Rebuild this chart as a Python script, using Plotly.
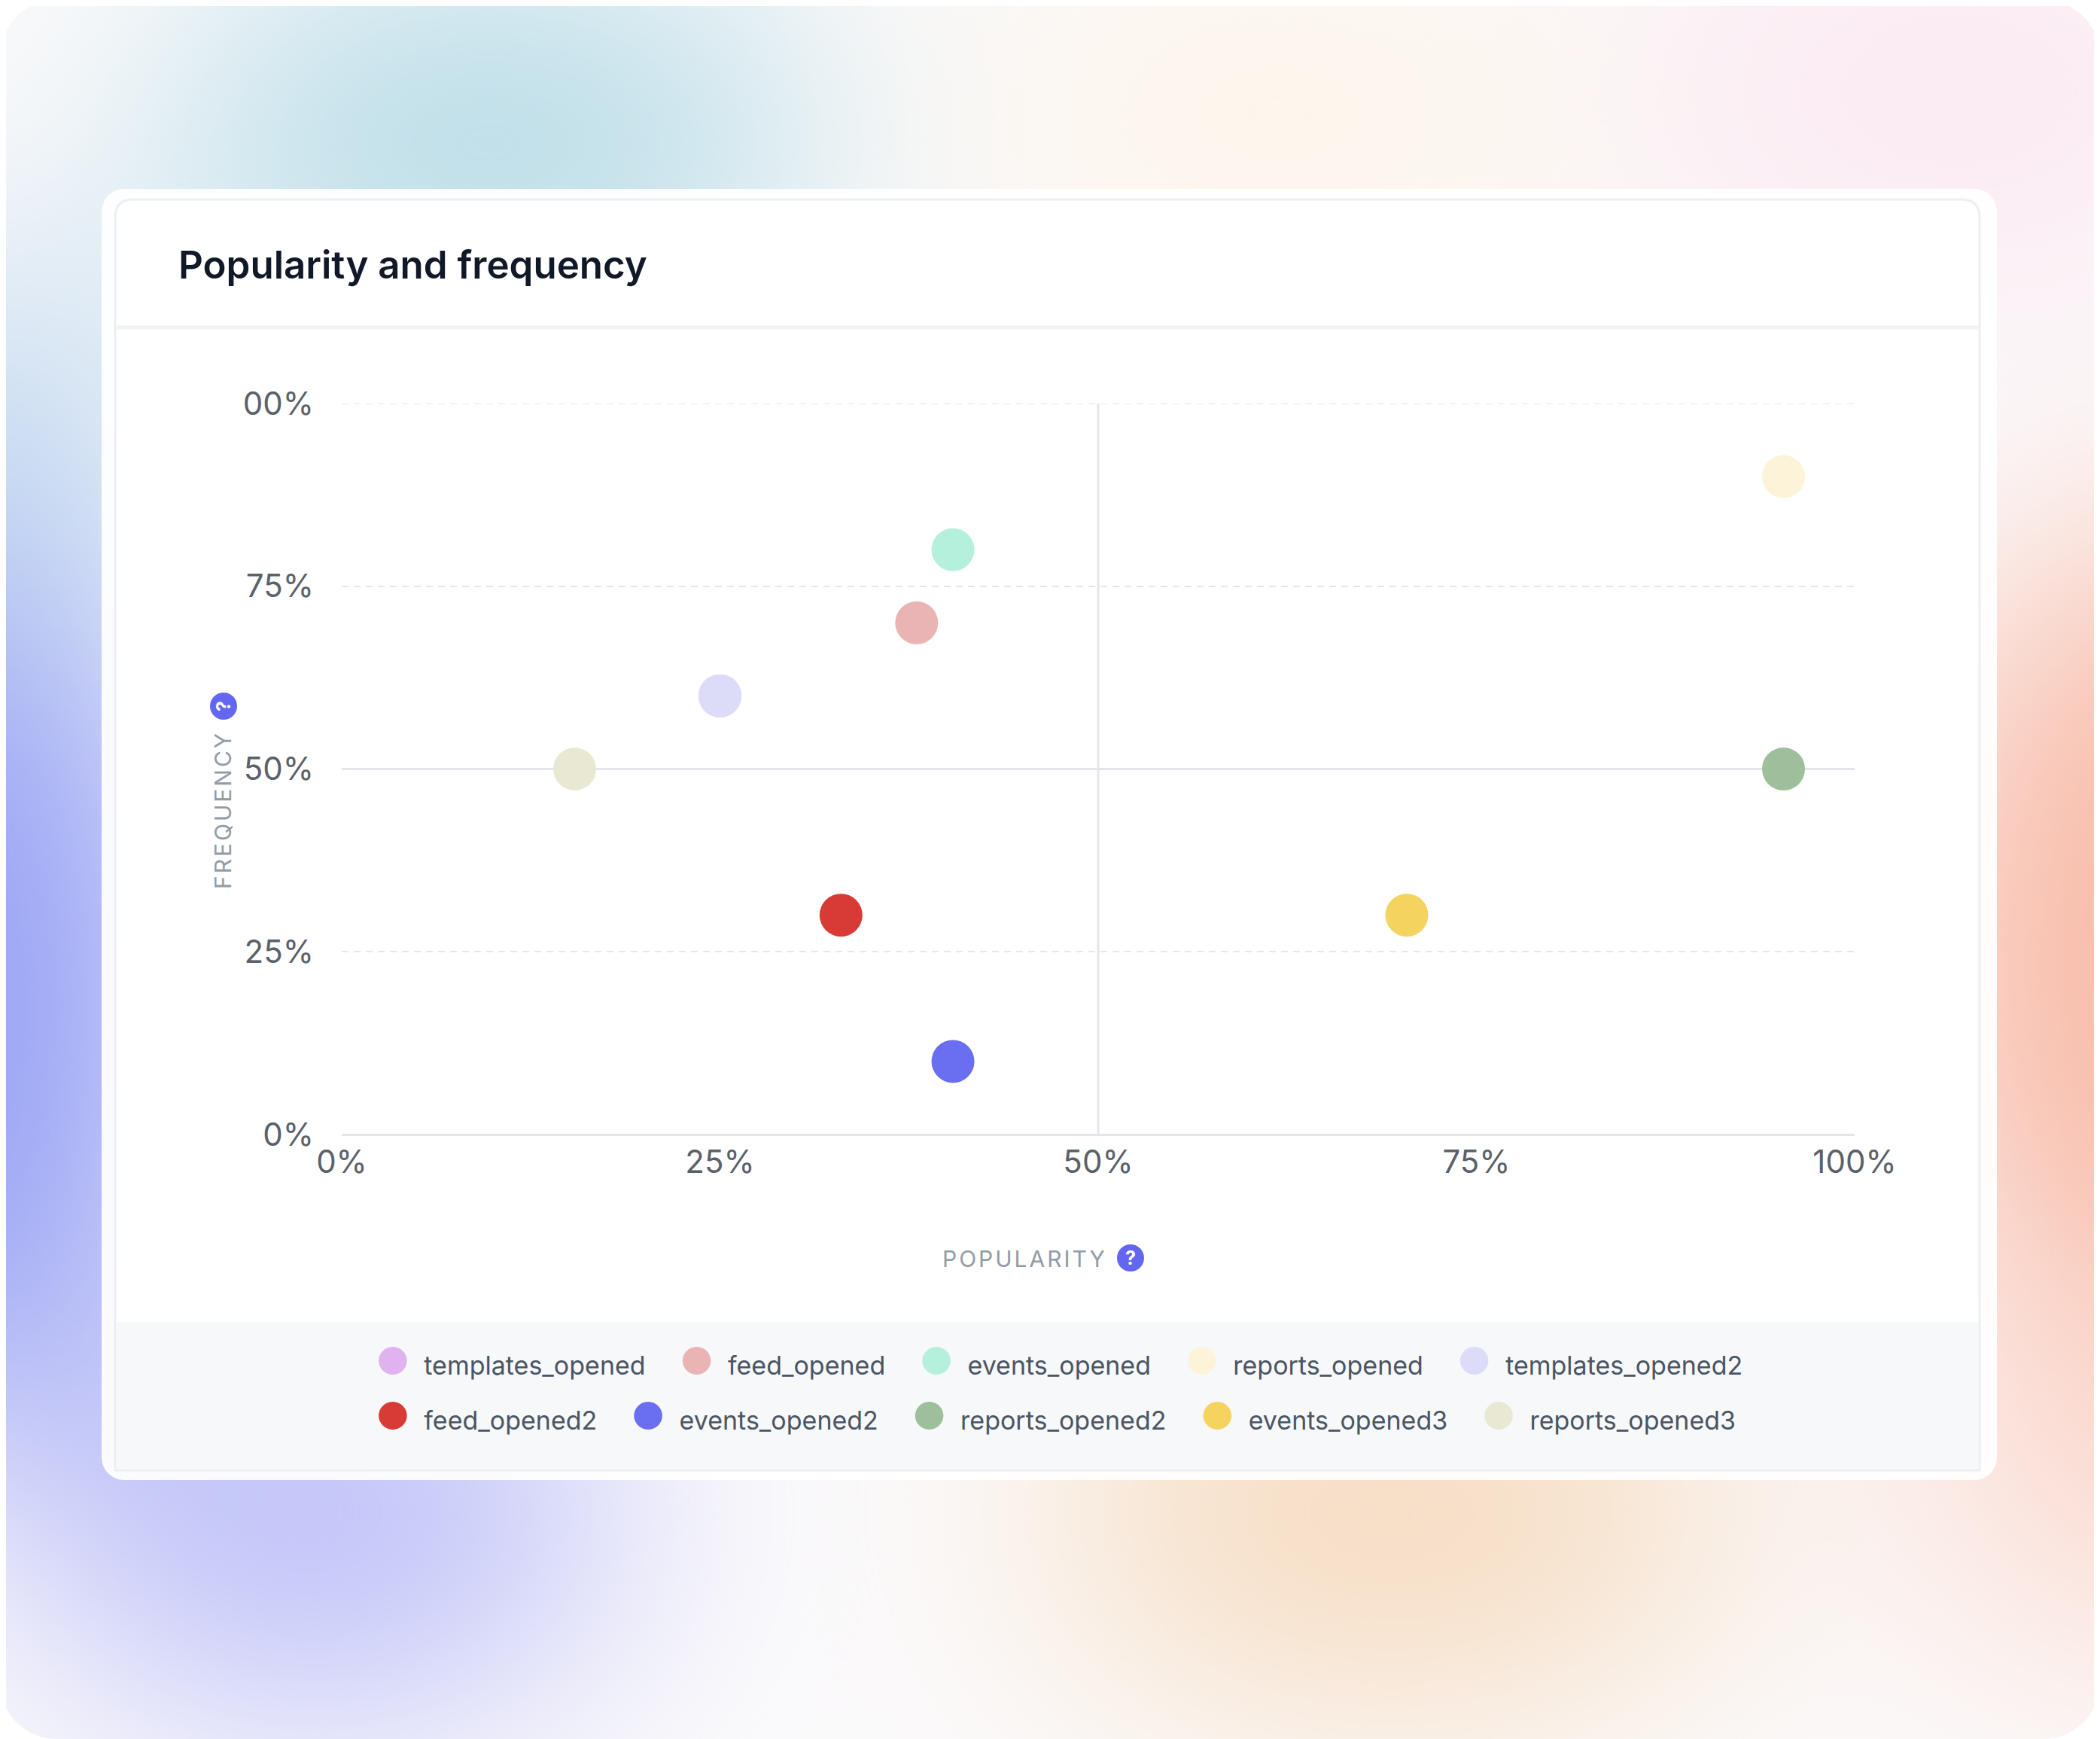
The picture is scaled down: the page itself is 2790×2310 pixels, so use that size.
import base64
import plotly.graph_objects as go

# --- data ---
event_names = ["templates_opened", "feed_opened", "events_opened", "reports_opened",
               "templates_opened2", "feed_opened2", "events_opened2", "reports_opened2",
               "events_opened3", "reports_opened3"]
popularity = [25, 38, 40.4, 95.3, 25, 33, 40.4, 95.3, 70.4, 15.4]
frequency = [60, 70, 80, 90, 60, 30, 10, 50, 30, 50]
point_colors = ["#e0b2f0", "#ebb4b4", "#b4f0dc", "#fdf3d9", "#dcdcf9",
                "#d83a35", "#6a6ef0", "#9dbf9b", "#f4d35e", "#e9e9d3"]
axis_ticks = [0, 25, 50, 75, 100]
x_tick_labels = ["0%", "25%", "50%", "75%", "100%"]
y_tick_labels = ["0%", "25%", "50%", "75%", "00%"]
quadrant_split = 50

FONT = "Inter, 'Noto Sans', sans-serif"
W, H = 2790, 2310
OFF = 8  # page body margin
# plot area in window pixels: x 454..2464, y 536..1507
ML, MT = 454 - OFF, 536 - OFF
MR, MB = W - (2464 - OFF), H - (1507 - OFF)
PW = W - ML - MR
PH = H - MT - MB


def px(x):
    return (x - OFF - ML) / PW


def py(y):
    return (H - MB - (y - OFF)) / PH


# pastel backdrop + card, drawn as one svg picture behind the chart
bg_svg = f"""<svg xmlns="http://www.w3.org/2000/svg" width="{W}" height="{H}" viewBox="0 0 {W} {H}">
<defs>
<filter id="b" x="-50%" y="-50%" width="200%" height="200%"><feGaussianBlur stdDeviation="170"/></filter>
<clipPath id="c"><rect width="{W}" height="{H}" rx="75"/></clipPath>
</defs>
<g clip-path="url(#c)">
<rect width="{W}" height="{H}" fill="#fbfafb"/>
<g filter="url(#b)">
<ellipse cx="650" cy="190" rx="440" ry="220" fill="#b2d9e5"/>
<ellipse cx="-20" cy="650" rx="220" ry="300" fill="#bcd6ee"/>
<ellipse cx="-60" cy="1330" rx="310" ry="580" fill="#96a1f4"/>
<ellipse cx="420" cy="2010" rx="400" ry="260" fill="#bcbff8"/>
<ellipse cx="1850" cy="2010" rx="460" ry="260" fill="#f6dbc0"/>
<ellipse cx="2880" cy="1280" rx="330" ry="580" fill="#f8b9a6"/>
<ellipse cx="2850" cy="1950" rx="300" ry="250" fill="#fbd9cf"/>
<ellipse cx="2600" cy="120" rx="420" ry="250" fill="#fbe8f1"/>
<ellipse cx="1700" cy="150" rx="420" ry="200" fill="#fdf4e8"/>
</g></g>
<rect x="135" y="251" width="2518" height="1715" rx="30" fill="#ffffff" fill-opacity="0.93"/>
<path d="M153,289 Q153,265 177,265 L2606,265 Q2630,265 2630,289 L2630,1953 L153,1953 Z"
 fill="#ffffff" stroke="#eceef1" stroke-width="3"/>
<line x1="155" x2="2628" y1="435" y2="435" stroke="#f0f2f4" stroke-width="5"/>
<rect x="155" y="1756" width="2473" height="195" fill="#f7f8fa"/>
</svg>"""
bg_uri = "data:image/svg+xml;base64," + base64.b64encode(bg_svg.encode()).decode()

fig = go.Figure()

# quadrant split lines and the top dashed grid line (plotly drops grid lines on the edge)
lo, hi = axis_ticks[0], axis_ticks[-1]
guide = dict(mode="lines", showlegend=False, hoverinfo="skip")
fig.add_trace(go.Scatter(x=[quadrant_split, quadrant_split], y=[lo, hi],
                         line=dict(color="#e4e6eb", width=3), **guide))
fig.add_trace(go.Scatter(x=[lo, hi], y=[quadrant_split, quadrant_split],
                         line=dict(color="#e4e6eb", width=3), **guide))
fig.add_trace(go.Scatter(x=[lo, hi], y=[hi, hi],
                         line=dict(color="#e3e6ea", width=2, dash="9px,7px"), **guide))

for name, x, y, c in zip(event_names, popularity, frequency, point_colors):
    fig.add_trace(go.Scatter(
        x=[x], y=[y], mode="markers", name=name, legendgroup=name, showlegend=False,
        marker=dict(size=57, color=c),
        hovertemplate=name + "<br>popularity %{x}%<br>frequency %{y}%<extra></extra>",
    ))
    # legend entry with a bigger dot than plotly allows for legend symbols
    fig.add_trace(go.Scatter(
        x=[None], y=[None], mode="markers", legendgroup=name, showlegend=True,
        marker=dict(size=2, color="rgba(0,0,0,0)"),
        name=(f'<span style="color:{c};font-size:50px">●</span>'
              f'<span style="font-size:66px">\u00a0</span>'
              f'<span style="font-size:34px">{name}</span>'),
    ))

shapes = [
    # help icons
    dict(type="circle", x0=px(1484), x1=px(1520), y0=py(1653), y1=py(1689), xref="paper", yref="paper",
         fillcolor="#6366f1", line=dict(width=0)),
    dict(type="circle", x0=px(279), x1=px(315), y0=py(920), y1=py(956), xref="paper", yref="paper",
         fillcolor="#6366f1", line=dict(width=0)),
]

annotations = [
    dict(text="Popularity and frequency", x=px(235), y=py(351), xref="paper", yref="paper",
         xanchor="left", yanchor="middle", showarrow=False,
         font=dict(family=FONT, size=51, color="#111827", weight=600)),
    dict(text='<span style="letter-spacing:3px">POPULARITY</span>', x=px(1361), y=py(1672),
         xref="paper", yref="paper", xanchor="center", yanchor="middle", showarrow=False,
         font=dict(family=FONT, size=30, color="#939ba5")),
    dict(text='<span style="letter-spacing:3px">FREQUENCY</span>', x=px(296), y=py(1076),
         xref="paper", yref="paper", xanchor="center", yanchor="middle", showarrow=False,
         textangle=-90, font=dict(family=FONT, size=30, color="#939ba5")),
    dict(text="<b>?</b>", x=px(1502), y=py(1671), xref="paper", yref="paper",
         xanchor="center", yanchor="middle", showarrow=False,
         font=dict(family=FONT, size=25, color="white")),
    dict(text="<b>?</b>", x=px(297), y=py(938), xref="paper", yref="paper",
         xanchor="center", yanchor="middle", showarrow=False, textangle=-90,
         font=dict(family=FONT, size=25, color="white")),
]

fig.update_layout(
    width=W, height=H,
    margin=dict(l=ML, r=MR, t=MT, b=MB),
    paper_bgcolor="white",
    plot_bgcolor="rgba(0,0,0,0)",
    font=dict(family=FONT, color="#5b6169"),
    images=[dict(source=bg_uri, xref="paper", yref="paper", x=px(0), y=py(0),
                 sizex=W / PW, sizey=H / PH, xanchor="left", yanchor="top",
                 sizing="stretch", layer="below")],
    shapes=shapes,
    annotations=annotations,
    showlegend=True,
    legend=dict(orientation="h", xref="container", yref="container",
                x=(1390 - OFF) / W, xanchor="center", y=1 - (1772 - OFF) / H, yanchor="top",
                bgcolor="rgba(0,0,0,0)", itemwidth=30,
                font=dict(family=FONT, size=46, color="#4b5563")),
    xaxis=dict(range=[0, 100], tickvals=axis_ticks, ticktext=x_tick_labels,
               showgrid=False, zeroline=False, showline=False, ticks="",
               ticklabelstandoff=8, tickfont=dict(size=42, color="#5b6169"), fixedrange=True),
    yaxis=dict(range=[0, 100], tickvals=axis_ticks, ticktext=y_tick_labels,
               showgrid=True, gridcolor="#e3e6ea", gridwidth=2, griddash="9px,7px",
               zeroline=True, zerolinecolor="#e2e5ea", zerolinewidth=3, showline=False, ticks="",
               ticklabelstandoff=36, tickfont=dict(size=42, color="#5b6169"), fixedrange=True),
    hovermode="closest",
)

fig.write_html("out.html")
